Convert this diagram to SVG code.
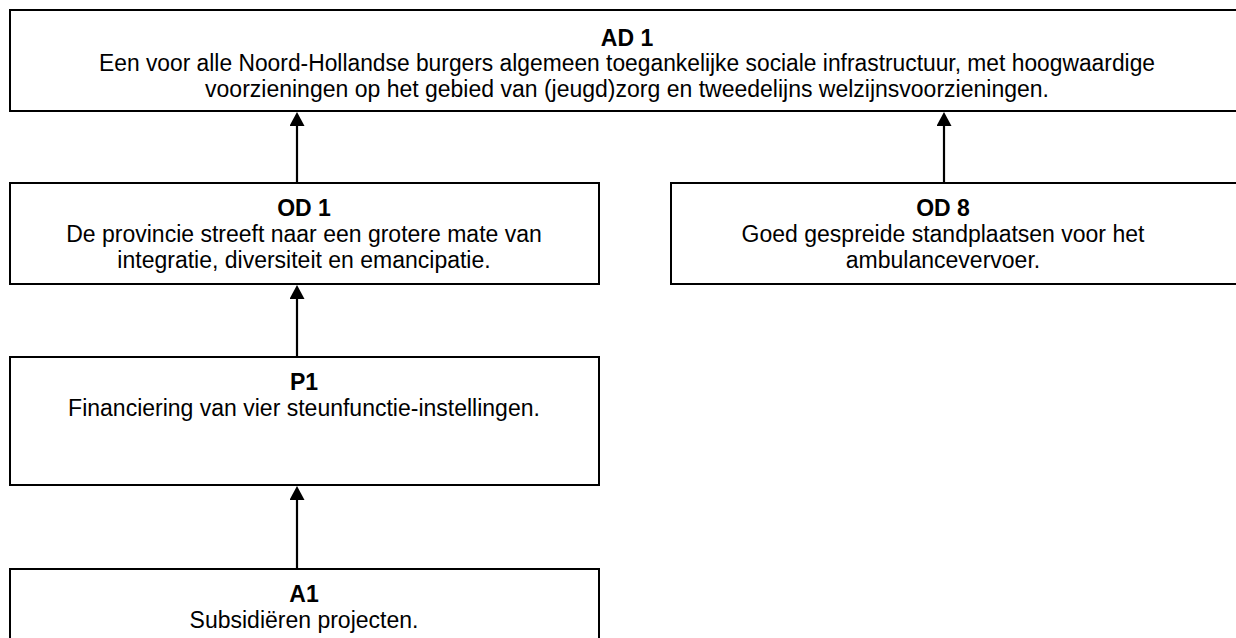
<svg xmlns="http://www.w3.org/2000/svg" width="1236" height="638" viewBox="0 0 1236 638">
<style>
.box{fill:#fff;stroke:#000;stroke-width:2}
.t{font-family:"Liberation Sans",Arial,sans-serif;font-size:23px;fill:#000;text-anchor:middle}
.b{font-weight:bold}
.con{stroke:#000;stroke-width:2.2;fill:none;marker-end:url(#ah)}
</style>
<defs>
<marker id="ah" viewBox="0 0 14 15" refX="0" refY="7.5" markerWidth="14" markerHeight="15" markerUnits="userSpaceOnUse" orient="auto">
<path d="M0,0 L14,7.5 L0,15 z" fill="#000"/>
</marker>
</defs>
<rect width="1236" height="638" fill="#fff"/>
<g id="AD1">
<rect class="box" x="10" y="10" width="1240" height="101"/>
<text class="t b" x="627" y="46">AD 1</text>
<text class="t" x="627" y="71" textLength="1056" lengthAdjust="spacingAndGlyphs">Een voor alle Noord-Hollandse burgers algemeen toegankelijke sociale infrastructuur, met hoogwaardige</text>
<text class="t" x="627" y="97">voorzieningen op het gebied van (jeugd)zorg en tweedelijns welzijnsvoorzieningen.</text>
</g>
<g id="OD1">
<rect class="box" x="10" y="183" width="589" height="101"/>
<text class="t b" x="304" y="216">OD 1</text>
<text class="t" x="304" y="242">De provincie streeft naar een grotere mate van</text>
<text class="t" x="304" y="268">integratie, diversiteit en emancipatie.</text>
</g>
<g id="OD8">
<rect class="box" x="671" y="183" width="580" height="101"/>
<text class="t b" x="943" y="216">OD 8</text>
<text class="t" x="943" y="242">Goed gespreide standplaatsen voor het</text>
<text class="t" x="943" y="268">ambulancevervoer.</text>
</g>
<g id="P1">
<rect class="box" x="10" y="357" width="589" height="128"/>
<text class="t b" x="304" y="390">P1</text>
<text class="t" x="304" y="416">Financiering van vier steunfunctie-instellingen.</text>
</g>
<g id="A1">
<rect class="box" x="10" y="569" width="589" height="90"/>
<text class="t b" x="304" y="602">A1</text>
<text class="t" x="304" y="628">Subsidiëren projecten.</text>
</g>
<g id="connectors">
<path class="con" d="M297,183 V126"/>
<path class="con" d="M944,183 V126"/>
<path class="con" d="M297,357 V299"/>
<path class="con" d="M297,569 V500"/>
</g>
</svg>
